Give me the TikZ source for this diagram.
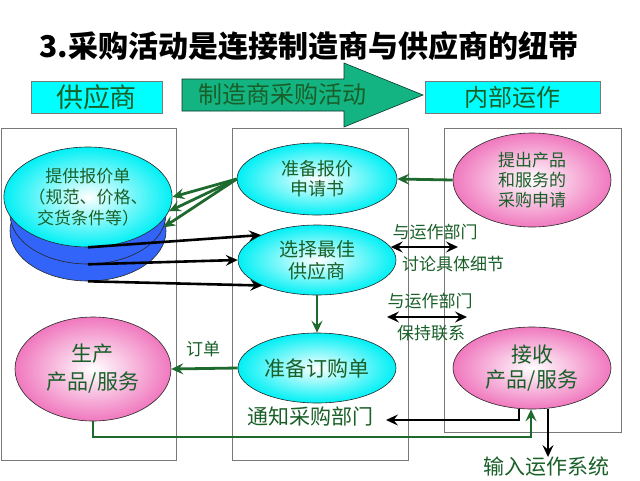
\documentclass[tikz,border=0pt]{standalone}
\usepackage{fontspec}
\setmainfont{Noto Sans CJK SC}
\usetikzlibrary{arrows.meta,shapes.geometric,shadings}
\definecolor{tgreen}{RGB}{25,95,40}
\definecolor{lgreen}{RGB}{30,105,45}
\definecolor{cyanE}{RGB}{0,240,245}
\definecolor{pinkE}{RGB}{240,120,190}
\definecolor{diskblue}{RGB}{50,100,250}
\definecolor{arrowfill}{RGB}{20,180,130}
\definecolor{hdrcyan}{RGB}{0,255,255}
\definecolor{framegray}{RGB}{120,120,120}
\tikzset{
 col/.style={draw=framegray, line width=0.8pt},
 ell/.style={ellipse, draw=black!85, line width=0.6pt, inner sep=0pt, align=center, text=tgreen},
 cyanell/.style={ell, inner color=white, outer color=cyanE},
 pinkell/.style={ell, inner color=white, outer color=pinkE},
 diskell/.style={ellipse, draw=black!85, line width=0.6pt, fill=diskblue, minimum width=156pt, minimum height=100pt, inner sep=0pt},
 tip/.style={-{Stealth[length=12pt,width=11pt,inset=4.5pt]}},
 garrow/.style={draw=lgreen, line width=2.8pt, tip},
 barrow/.style={draw=black, line width=2.6pt, tip},
 dbarrow/.style={draw=black, line width=2.6pt, {Stealth[length=12pt,width=11pt,inset=4.5pt]}-{Stealth[length=12pt,width=11pt,inset=4.5pt]}},
 lbl/.style={text=tgreen, inner sep=0pt},
 hdr/.style={draw=framegray, line width=0.6pt, fill=hdrcyan, text=tgreen, inner sep=0pt},
 fa/.style={font=\fontsize{17}{20}\selectfont},
 fc/.style={font=\fontsize{21}{27}\selectfont}
}
\begin{document}
\begin{tikzpicture}[x=1pt,y=-1pt]
\useasboundingbox (0,0) rectangle (640,480);
\fill[white] (0,0) rectangle (640,480);

% title
\node[font=\fontsize{30}{34}\selectfont\bfseries, inner sep=0pt] (title) at (309,46) {3.采购活动是连接制造商与供应商的纽带};

% header
\node[hdr, minimum width=131pt, minimum height=32pt, font=\fontsize{27}{30}\selectfont] (sup) at (96.5,97) {供应商};
\node[hdr, minimum width=175pt, minimum height=32pt, font=\fontsize{24}{28}\selectfont] (ops) at (512.5,97) {内部运作};
\draw[draw=black!70!arrowfill, line width=0.6pt, fill=arrowfill]
  (182,79) -- (344,79) -- (344,63) -- (423,95) -- (344,127) -- (344,111) -- (182,111) -- cycle;
\node[lbl, font=\fontsize{24}{28}\selectfont] (act) at (282,94) {制造商采购活动};

% columns
\draw[col] (1,128) rectangle (176,460);
\draw[col] (232,128) rectangle (408,460);
\draw[col] (444,128) rectangle (621,432);

% supplier stack
\node[diskell] (disk3) at (88,231) {};
\node[diskell] (disk2) at (88,214) {};
\node[cyanell, minimum width=156pt, minimum height=100pt, font=\fontsize{17}{21}\selectfont] (disk1) at (88,197) {提供报价单\\（规范、价格、\\交货条件等）};

% ellipses
\node[cyanell, minimum width=160pt, minimum height=72pt, font=\fontsize{18}{20}\selectfont] (req) at (317,179) {准备报价\\申请书};
\node[cyanell, minimum width=158pt, minimum height=70pt, font=\fontsize{19}{22}\selectfont] (sel) at (317,260) {选择最佳\\供应商};
\node[cyanell, minimum width=158pt, minimum height=70pt, font=\fontsize{21}{25}\selectfont] (ord) at (317,368) {准备订购单};
\node[pinkell, minimum width=158pt, minimum height=94pt, font=\fontsize{17}{20}\selectfont] (prq) at (532,180) {提出产品\\和服务的\\采购申请};
\node[pinkell, minimum width=156pt, minimum height=104pt, font=\fontsize{21}{28}\selectfont] (prod) at (93,369) {生产\\产品/服务};
\node[pinkell, minimum width=158pt, minimum height=82pt, font=\fontsize{21}{25}\selectfont] (rec) at (532,368) {接收\\产品/服务};

% labels
\node[lbl, fa] (l1a) at (435,232) {与运作部门};
\node[lbl, fa] (l1b) at (453,264) {讨论具体细节};
\node[lbl, fa] (l2a) at (430,301) {与运作部门};
\node[lbl, fa] (l2b) at (431,333) {保持联系};
\node[lbl, fa] (dan) at (203,349) {订单};
\node[lbl, fc] (notify) at (310,416) {通知采购部门};
\node[lbl, fc] (input) at (546,467) {输入运作系统};

% coordinates
\coordinate (d1e) at (458,247);
\coordinate (d2w) at (387,317);
\coordinate (d2e) at (467,317);
\coordinate (gy) at (0,437);
\coordinate (nt) at (386,420);

% connectors
\draw[garrow] (req.west) -- (disk1.east);
\draw[garrow] (req.west) -- (disk1.-10);
\draw[garrow] (req.west) -- (disk2.-10);
\draw[barrow] (disk1.south) -- (sel.156);
\draw[barrow] (disk2.south) -- (sel.west);
\draw[barrow] (disk3.south) -- (sel.205);
\draw[garrow] (prq.west) -- (req.east);
\draw[dbarrow] (sel.10) -- (d1e |- sel.10);
\draw[dbarrow] (d2w) -- (d2e);
\draw[garrow] (sel.south) -- (ord.north);
\draw[garrow] (ord.west) -- (prod.east);
\draw[garrow] (prod.south) -- (prod.south |- gy) -| ([xshift=-1pt]rec.south);
\draw[barrow] ([xshift=-13pt]rec.south) |- (nt);
\draw[barrow] ([xshift=16pt]rec.south) -- ([xshift=16pt]rec.south |- input.north);
\end{tikzpicture}
\end{document}
